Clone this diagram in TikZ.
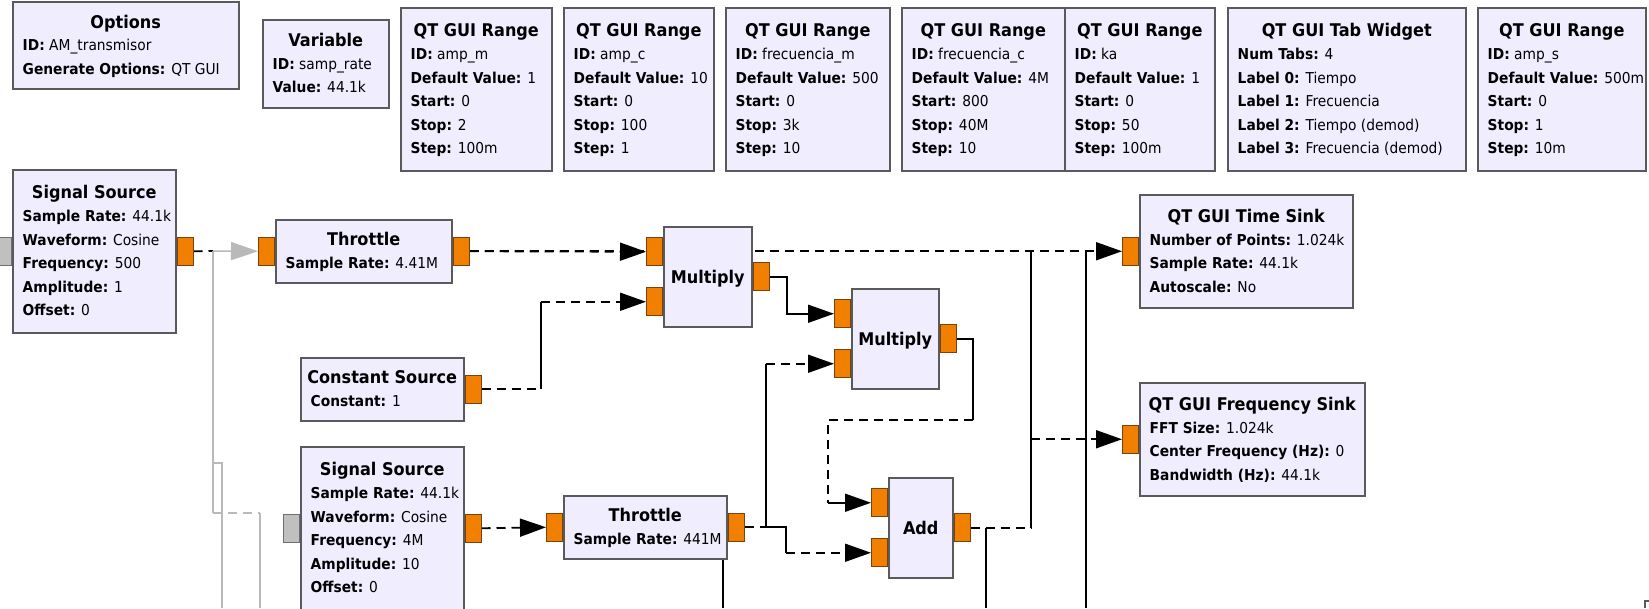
\documentclass[tikz,border=0pt]{standalone}
\usepackage{fontspec}
\setmainfont{DejaVu Sans}[FakeStretch=0.92]
\usetikzlibrary{calc,arrows.meta}
\definecolor{boxfill}{RGB}{240,237,255}
\definecolor{boxline}{RGB}{90,90,90}
\definecolor{portfill}{RGB}{242,128,0}
\definecolor{portline}{RGB}{120,65,15}
\definecolor{gportfill}{RGB}{192,192,192}
\definecolor{gportline}{RGB}{110,110,110}
\definecolor{gwirec}{RGB}{185,185,185}
\pgfdeclarelayer{background}
\pgfsetlayers{background,main}
\newcommand\lbl[2]{\textbf{#1:} #2}
% name, x, y, w, h, number of body lines, title, body lines
\newcommand\blk[8]{%
  \node[blockbox, minimum width=#4pt, minimum height=#5pt, anchor=north west] (#1) at (#2,#3) {};
  \node[ttl, anchor=base] (#1-t) at ($(#1.center)+(0,{-11.75*#6+6.4})$) {#7};
  \foreach \l [count=\i] in {#8} {
    \node[bodytxt, anchor=base west] (#1-\i) at ($(#1.west)+(10.5,{-11.75*#6+23.5*\i+5.5})$) {\l};
  }%
}
\newcommand\opblk[6]{%
  \node[blockbox, minimum width=#4pt, minimum height=#5pt, anchor=north west] (#1) at (#2,#3) {};
  \node[ttl, anchor=base] (#1-t) at ($(#1.center)+(0,6.4)$) {#6};
}
\begin{document}
\begin{tikzpicture}[x=1pt, y=-1pt,
  blockbox/.style={rectangle, draw=boxline, fill=boxfill, line width=1.5pt, inner sep=0pt},
  ttl/.style={inner sep=0pt, font=\fontsize{17.5}{20}\selectfont\bfseries},
  bodytxt/.style={inner sep=0pt, font=\fontsize{15}{18}\selectfont},
  port/.style={rectangle, draw=portline, fill=portfill, line width=1pt, minimum width=16pt, minimum height=28pt, inner sep=0pt},
  gport/.style={port, draw=gportline, fill=gportfill},
  wire/.style={line width=1.8pt, draw=black},
  dsh/.style={dash pattern=on 9pt off 6pt},
  arr/.style={-{Triangle[length=26pt,width=18pt]}},
  gwire/.style={line width=1.5pt, draw=gwirec},
  garr/.style={-{Triangle[length=27pt,width=18pt,fill=gwirec]}},
]
\useasboundingbox (0,0) rectangle (1649,608);
\begin{pgfonlayer}{background}
\fill[white] (0,0) rectangle (1649,608);
\end{pgfonlayer}
\clip (0,0) rectangle (1649,608);

% top row
\blk{opt}{12}{1}{226}{87}{2}{Options}{\lbl{ID}{AM\_transmisor},\lbl{Generate Options}{QT GUI}}
\blk{var}{262}{19}{126}{88}{2}{Variable}{\lbl{ID}{samp\_rate},\lbl{Value}{44.1k}}
\blk{r1}{400}{7}{151}{163}{5}{QT GUI Range}{\lbl{ID}{amp\_m},\lbl{Default Value}{1},\lbl{Start}{0},\lbl{Stop}{2},\lbl{Step}{100m}}
\blk{r2}{563}{7}{150}{163}{5}{QT GUI Range}{\lbl{ID}{amp\_c},\lbl{Default Value}{10},\lbl{Start}{0},\lbl{Stop}{100},\lbl{Step}{1}}
\blk{r3}{725}{7}{164}{163}{5}{QT GUI Range}{\lbl{ID}{frecuencia\_m},\lbl{Default Value}{500},\lbl{Start}{0},\lbl{Stop}{3k},\lbl{Step}{10}}
\blk{r4}{901}{7}{163}{163}{5}{QT GUI Range}{\lbl{ID}{frecuencia\_c},\lbl{Default Value}{4M},\lbl{Start}{800},\lbl{Stop}{40M},\lbl{Step}{10}}
\blk{r5}{1064}{7}{150}{163}{5}{QT GUI Range}{\lbl{ID}{ka},\lbl{Default Value}{1},\lbl{Start}{0},\lbl{Stop}{50},\lbl{Step}{100m}}
\blk{tab}{1227}{7}{238}{163}{5}{QT GUI Tab Widget}{\lbl{Num Tabs}{4},\lbl{Label 0}{Tiempo},\lbl{Label 1}{Frecuencia},\lbl{Label 2}{Tiempo (demod)},\lbl{Label 3}{Frecuencia (demod)}}
\blk{r6}{1477}{7}{168}{163}{5}{QT GUI Range}{\lbl{ID}{amp\_s},\lbl{Default Value}{500m},\lbl{Start}{0},\lbl{Stop}{1},\lbl{Step}{10m}}

% flow graph blocks
\blk{ss1}{12}{169}{163}{163}{5}{Signal Source}{\lbl{Sample Rate}{44.1k},\lbl{Waveform}{Cosine},\lbl{Frequency}{500},\lbl{Amplitude}{1},\lbl{Offset}{0}}
\blk{thr1}{275}{219}{176}{63}{1}{Throttle}{\lbl{Sample Rate}{4.41M}}
\blk{cs}{300}{357}{163}{63}{1}{Constant Source}{\lbl{Constant}{1}}
\blk{ss2}{300}{446}{163}{163}{5}{Signal Source}{\lbl{Sample Rate}{44.1k},\lbl{Waveform}{Cosine},\lbl{Frequency}{4M},\lbl{Amplitude}{10},\lbl{Offset}{0}}
\blk{thr2}{563}{495}{163}{63}{1}{Throttle}{\lbl{Sample Rate}{441M}}
\opblk{m1}{663}{226}{88}{100}{Multiply}
\opblk{m2}{851}{288}{87}{100}{Multiply}
\opblk{add}{888}{477}{64}{100}{Add}
\blk{ts}{1139}{194}{213}{113}{3}{QT GUI Time Sink}{\lbl{Number of Points}{1.024k},\lbl{Sample Rate}{44.1k},\lbl{Autoscale}{No}}
\blk{fs}{1139}{382}{225}{113}{3}{QT GUI Frequency Sink}{\lbl{FFT Size}{1.024k},\lbl{Center Frequency (Hz)}{0},\lbl{Bandwidth (Hz)}{44.1k}}

% ports
\node[gport, anchor=east] (ss1-i) at (ss1.west) {};
\node[port, anchor=west] (ss1-o) at (ss1.east) {};
\node[port, anchor=east] (thr1-i) at (thr1.west) {};
\node[port, anchor=west] (thr1-o) at (thr1.east) {};
\node[port, anchor=west] (cs-o) at (cs.east) {};
\node[gport, anchor=east] (ss2-i) at (ss2.west) {};
\node[port, anchor=west] (ss2-o) at (ss2.east) {};
\node[port, anchor=east] (thr2-i) at (thr2.west) {};
\node[port, anchor=west] (thr2-o) at (thr2.east) {};
\node[port, anchor=east] (m1-i1) at ($(m1.west)+(0,-25)$) {};
\node[port, anchor=east] (m1-i2) at ($(m1.west)+(0,25)$) {};
\node[port, anchor=west] (m1-o) at (m1.east) {};
\node[port, anchor=east] (m2-i1) at ($(m2.west)+(0,-25)$) {};
\node[port, anchor=east] (m2-i2) at ($(m2.west)+(0,25)$) {};
\node[port, anchor=west] (m2-o) at (m2.east) {};
\node[port, anchor=east] (add-i1) at ($(add.west)+(0,-25)$) {};
\node[port, anchor=east] (add-i2) at ($(add.west)+(0,25)$) {};
\node[port, anchor=west] (add-o) at (add.east) {};
\node[port, anchor=east] (ts-i) at (ts.west) {};
\node[port, anchor=east] (fs-i) at (fs.west) {};

% bend points
\coordinate (g0) at (213,251);
\coordinate (g1) at (213,463);
\coordinate (g2) at (222,463);
\coordinate (g3) at (222,608);
\coordinate (g4) at (213,513);
\coordinate (g5) at (260,513);
\coordinate (g6) at (260,608);
\coordinate (c1) at (541,0);
\coordinate (c2) at (787,0);
\coordinate (c3) at (973,420);
\coordinate (c4) at (828,420);
\coordinate (c5) at (766,0);
\coordinate (c6) at (786,0);
\coordinate (c7) at (1031,0);
\coordinate (b1) at (986,608);
\coordinate (b2) at (1086,608);
\coordinate (b3) at (723,608);
\coordinate (k1) at (1645,608);
\coordinate (k2) at (1645,601);
\coordinate (k3) at (1649,601);

\begin{pgfonlayer}{background}
  % throttle 1 -> multiply 1 and time sink
  \draw[wire,dsh,arr] (thr1-o.east) -- (ts-i.west);
  \draw[wire,dsh,arr] (thr1-o.east) -- (m1-i1.west);
  % signal source 1 -> throttle 1 (grey)
  \draw[wire,dsh] (ss1-o.east) -- (g0);
  \draw[gwire,garr] (g0) -- (thr1-i.west);
  \draw[gwire] (g0) -- (g4);
  \draw[gwire] (g1) -- (g2) -- (g3);
  \draw[gwire,dsh] (g4) -- (g5);
  \draw[gwire] (g5) -- (g6);
  % constant source -> multiply 1
  \draw[wire,dsh] (cs-o.east) -- (cs-o.east -| c1);
  \draw[wire] (cs-o.east -| c1) -- (m1-i2.west -| c1);
  \draw[wire,dsh,arr] (m1-i2.west -| c1) -- (m1-i2.west);
  % multiply 1 -> multiply 2
  \draw[wire,arr] (m1-o.east) -- (m1-o.east -| c2) -- (m2-i1.west -| c2) -- (m2-i1.west);
  % multiply 2 -> add
  \draw[wire] (m2-o.east) -| (c3);
  \draw[wire,dsh] (c3) -- (c4) -- (add-i1.west -| c4);
  \draw[wire,arr] (add-i1.west -| c4) -- (add-i1.west);
  % signal source 2 -> throttle 2
  \draw[wire,dsh,arr] (ss2-o.east) -- (thr2-i.west);
  % throttle 2 -> multiply 2 and add
  \draw[wire,dsh] (thr2-o.east) -- (thr2-o.east -| c5);
  \draw[wire] (thr2-o.east -| c5) -- (m2-i2.west -| c5);
  \draw[wire,dsh,arr] (m2-i2.west -| c5) -- (m2-i2.west);
  \draw[wire] (thr2-o.east -| c5) -- (thr2-o.east -| c6) -- (add-i2.west -| c6);
  \draw[wire,dsh,arr] (add-i2.west -| c6) -- (add-i2.west);
  % add -> time sink and frequency sink
  \draw[wire,dsh] (add-o.east) -- (add-o.east -| c7);
  \draw[wire] (add-o.east -| c7) -- (ts-i.west -| c7);
  \draw[wire,dsh,arr] (fs-i.west -| c7) -- (fs-i.west);
  % lines leaving the picture
  \draw[wire] (add-o.east -| b1) -- (b1);
  \draw[wire] (b2) -- (ts-i.west -| b2);
  \draw[wire] (thr2-o.east -| b3) -- (b3);
\end{pgfonlayer}
\draw[line width=1.5pt, draw=boxline] (k1) -- (k2) -- (k3);
\end{tikzpicture}
\end{document}
